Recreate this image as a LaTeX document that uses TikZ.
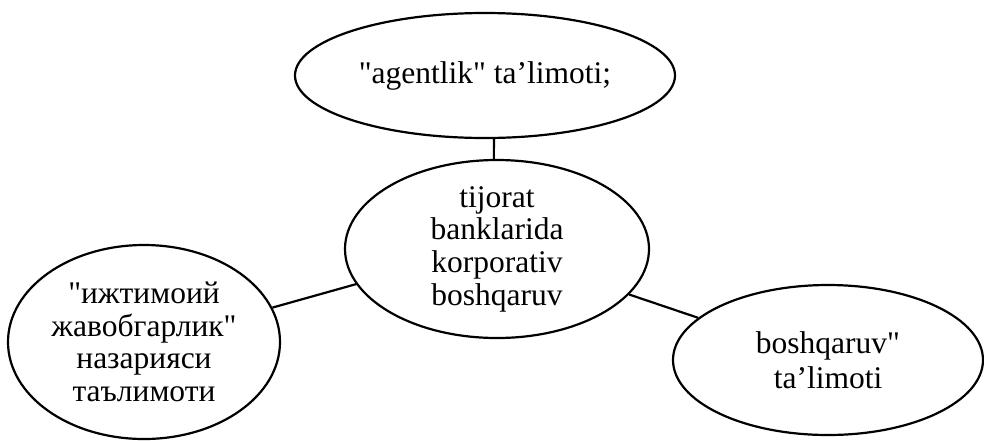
\documentclass[tikz,border=0pt]{standalone}
\usepackage{fontspec}
\setmainfont{Liberation Serif}[Ligatures=TeXOff]
\usetikzlibrary{shapes.geometric}
\begin{document}
\begin{tikzpicture}[x=1pt,y=-1pt,
  bub/.style={draw,ellipse,line width=2.2pt,inner sep=0pt,align=center,font=\fontsize{31.5}{32.7}\selectfont},
  link/.style={line width=2.2pt}]
\useasboundingbox (0,0) rectangle (984,440);
\node[bub,minimum width=380pt,minimum height=125pt] (top) at (485,75.5) {\raisebox{-4pt}{"agentlik" ta’limoti;}};
\node[bub,minimum width=304pt,minimum height=178pt] (mid) at (497,249) {tijorat\\banklarida\\korporativ\\boshqaruv};
\node[bub,minimum width=272pt,minimum height=194pt] (left) at (144,342) {"ижтимоий\\жавобгарлик"\\назарияси\\таълимоти};
\node[bub,minimum width=310pt,minimum height=150pt,font=\fontsize{31.5}{35}\selectfont] (right) at (828,360) {boshqaruv"\\ta’limoti};
\draw[link] (top.-82.7) -- (mid.92.6);
\draw[link] (left.15.2) -- (mid.194.5);
\draw[link] (mid.-19.6) -- (right.162.2);
\end{tikzpicture}
\end{document}
